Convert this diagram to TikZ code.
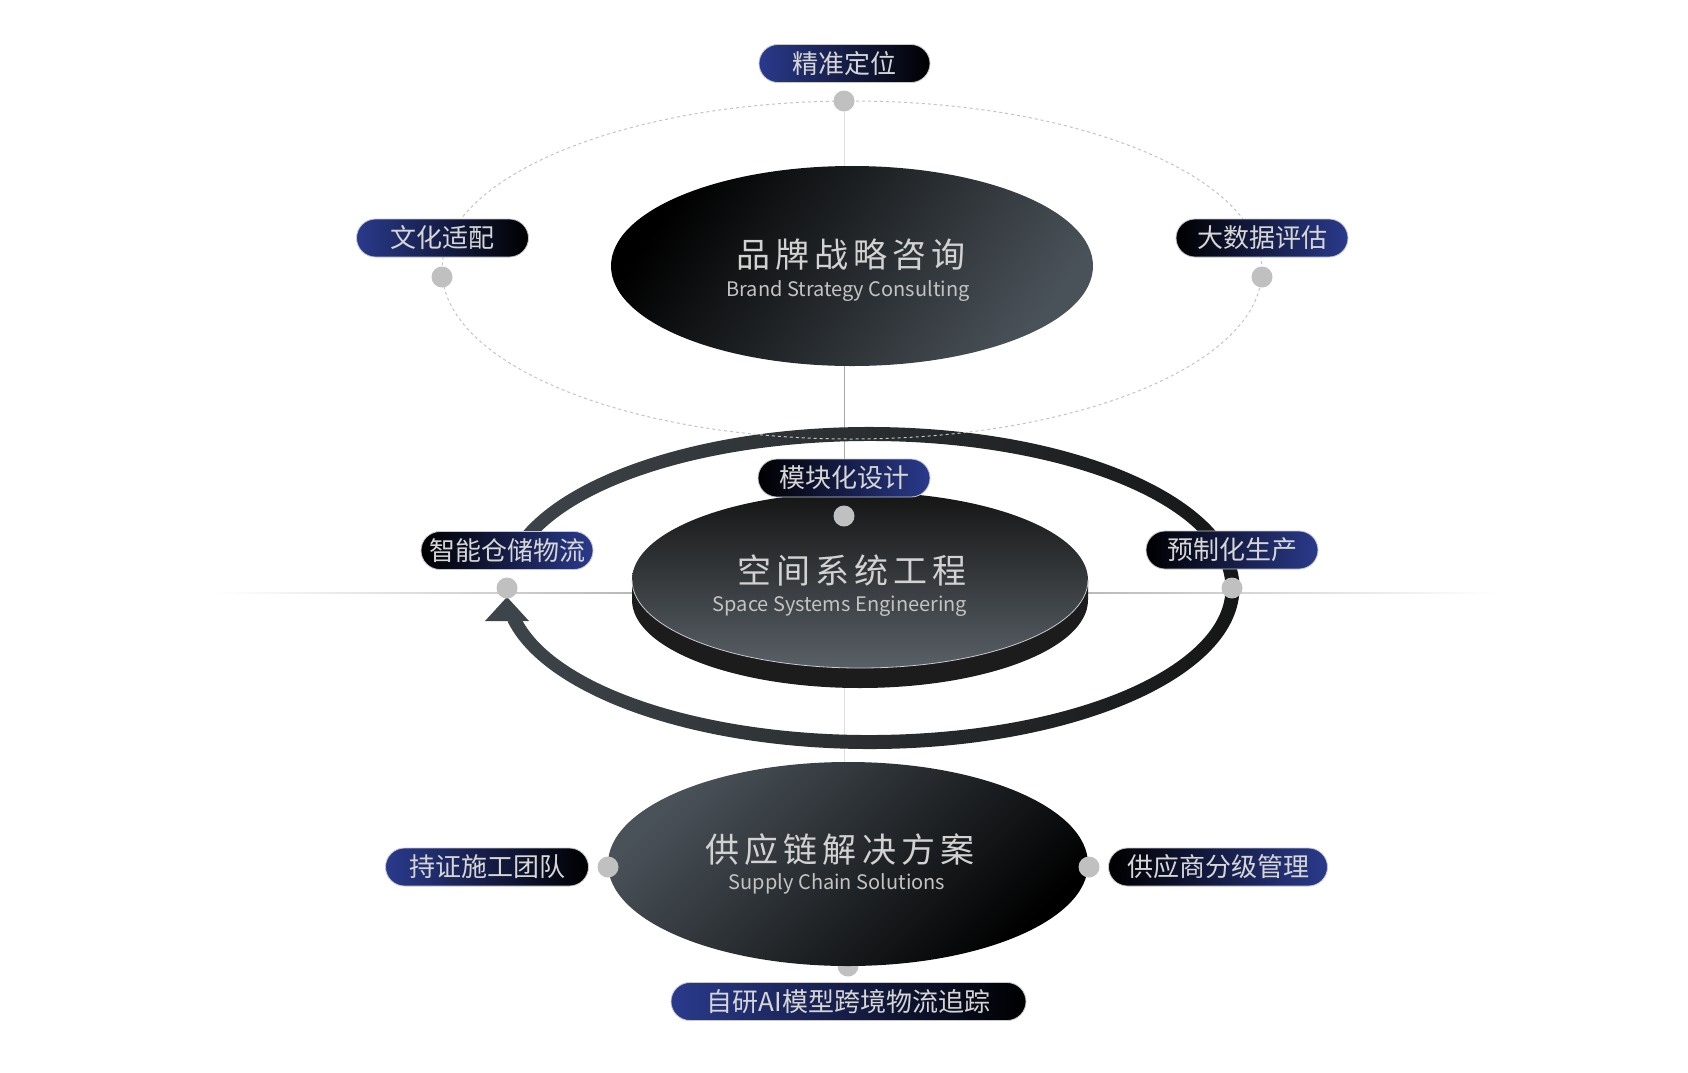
\documentclass[tikz,border=0pt]{standalone}
\usepackage{fontspec}
\setmainfont{Noto Sans CJK SC}
\newfontfamily\cjkwide[LetterSpace=15]{Noto Sans CJK SC}
\usetikzlibrary{calc,shapes.geometric}

\definecolor{pillblue}{RGB}{42,58,140}
\definecolor{pillnavy}{RGB}{12,16,44}
\definecolor{pilltext}{RGB}{214,214,214}
\definecolor{pillrim}{RGB}{200,200,205}
\definecolor{dotgray}{RGB}{192,192,192}
\definecolor{slate}{RGB}{74,82,89}
\definecolor{ringgray}{RGB}{62,69,74}
\definecolor{diskside}{RGB}{28,28,28}
\definecolor{dashgray}{RGB}{196,196,196}
\definecolor{titletext}{RGB}{210,210,210}
\definecolor{subtext}{RGB}{195,195,195}

\pgfdeclarelayer{background}
\pgfsetlayers{background,main}

\tikzset{
  pill/.style={rectangle, rounded corners=9.5pt, minimum height=19pt,
    draw=pillrim, line width=0.4pt, text=pilltext, inner sep=0pt,
    font=\fontsize{13}{15}\selectfont},
  blueleft/.style={left color=pillblue, middle color=pillnavy, right color=black},
  blueright/.style={left color=black, middle color=pillnavy, right color=pillblue},
  gdot/.style={circle, fill=dotgray, minimum size=10.5pt, inner sep=0pt},
  oval/.style={ellipse, inner sep=0pt, outer sep=0pt},
  cntitle/.style={text=titletext, font=\cjkwide\fontsize{17}{20}\selectfont, inner sep=0pt},
  entitle/.style={text=subtext, font=\fontsize{10}{12}\selectfont, inner sep=0pt},
  vline/.style={line width=0.5pt},
}

\begin{document}
\begin{tikzpicture}[x=0.5pt, y=-0.5pt]
  \useasboundingbox (0,0) rectangle (1688,1072);

  % the loop with its arrow
  \coordinate (ring) at (869.5,588);
  \shade[left color=ringgray, right color=black!92]
    ($(ring)+(188:370 and 161)$) arc[start angle=188, end angle=528, x radius=370, y radius=161]
    -- ($(ring)+(528:356 and 147)$) arc[start angle=528, end angle=188, x radius=356, y radius=147]
    -- cycle;
  \fill[ringgray] (485,621) -- (507,597) -- (529,621) -- cycle;

  \draw[dashgray, line width=0.5pt, dash pattern=on 1.5pt off 1.5pt]
    (852,270) ellipse [x radius=410, y radius=169];

  % three ovals
  \node[oval, minimum width=241pt, minimum height=100pt,
    left color=black, right color=slate, shading angle=55] (brand) at (852,266) {};

  \fill[diskside] (632,580) -- (632,600)
    arc[start angle=180, end angle=0, x radius=228, y radius=88] -- (1088,580) -- cycle;
  \node[oval, minimum width=228pt, minimum height=88pt,
    top color=black!92, bottom color=slate!92] (space) at (860,580) {};
  \draw[pillrim, line width=0.4pt] (space.west)
    arc[start angle=180, end angle=0, x radius=228, y radius=88];

  \node[gdot] (d-ai) at (848,966) {};
  \node[oval, minimum width=240pt, minimum height=102pt,
    left color=slate, middle color=black, right color=black, shading angle=45] (supply) at (848,864) {};

  \node[cntitle] (brand-cn) at (851,255) {品牌战略咨询};
  \node[entitle] (brand-en) at (848,291) {Brand Strategy Consulting};
  \node[cntitle] (space-cn) at (852,570) {空间系统工程};
  \node[entitle] (space-en) at (840,606) {Space Systems Engineering};
  \node[cntitle] (supply-cn) at (840,850) {供应链解决方案};
  \node[entitle] (supply-en) at (837,884) {Supply Chain Solutions};

  % dots and tags
  \node[gdot] (d-top) at (844,101) {};
  \node[pill, blueleft, minimum width=85.5pt] (p-top) at (844.5,63.5) {精准定位};
  \node[gdot] (d-cult) at (442,277) {};
  \node[pill, blueleft, minimum width=86pt] (p-cult) at (442.5,238) {文化适配};
  \node[gdot] (d-data) at (1262,277) {};
  \node[pill, blueright, minimum width=86pt] (p-data) at (1262,238) {大数据评估};
  \node[gdot] (d-mod) at (844,516) {};
  \node[pill, blueright, minimum width=86pt] (p-mod) at (844,478) {模块化设计};
  \node[gdot] (d-log) at (507,588) {};
  \node[pill, blueright, minimum width=86pt] (p-log) at (507,550.5) {智能仓储物流};
  \node[gdot] (d-pre) at (1232,588) {};
  \node[pill, blueright, minimum width=86pt] (p-pre) at (1232,550) {预制化生产};
  \node[gdot] (d-team) at (608,867) {};
  \node[pill, blueleft, minimum width=101.5pt] (p-team) at (487,867) {持证施工团队};
  \node[gdot] (d-supp) at (1089,867) {};
  \node[pill, blueright, minimum width=109.5pt] (p-supp) at (1218,867) {供应商分级管理};
  \node[pill, blueleft, minimum width=177.5pt] (p-ai) at (848.5,1001.5) {自研AI模型跨境物流追踪};

  \begin{pgfonlayer}{background}
    \fill[white] (0,0) rectangle (1688,1072);
    \shade[left color=white, right color=white, middle color=gray!85]
      (215,592.6) rectangle (1496,593.8);
    \draw[vline, gray!25] (d-top) -- (d-top |- supply.center);
    \draw[vline, gray!70] (p-mod.north) -- (p-mod.north |- brand.south);
  \end{pgfonlayer}
\end{tikzpicture}
\end{document}
